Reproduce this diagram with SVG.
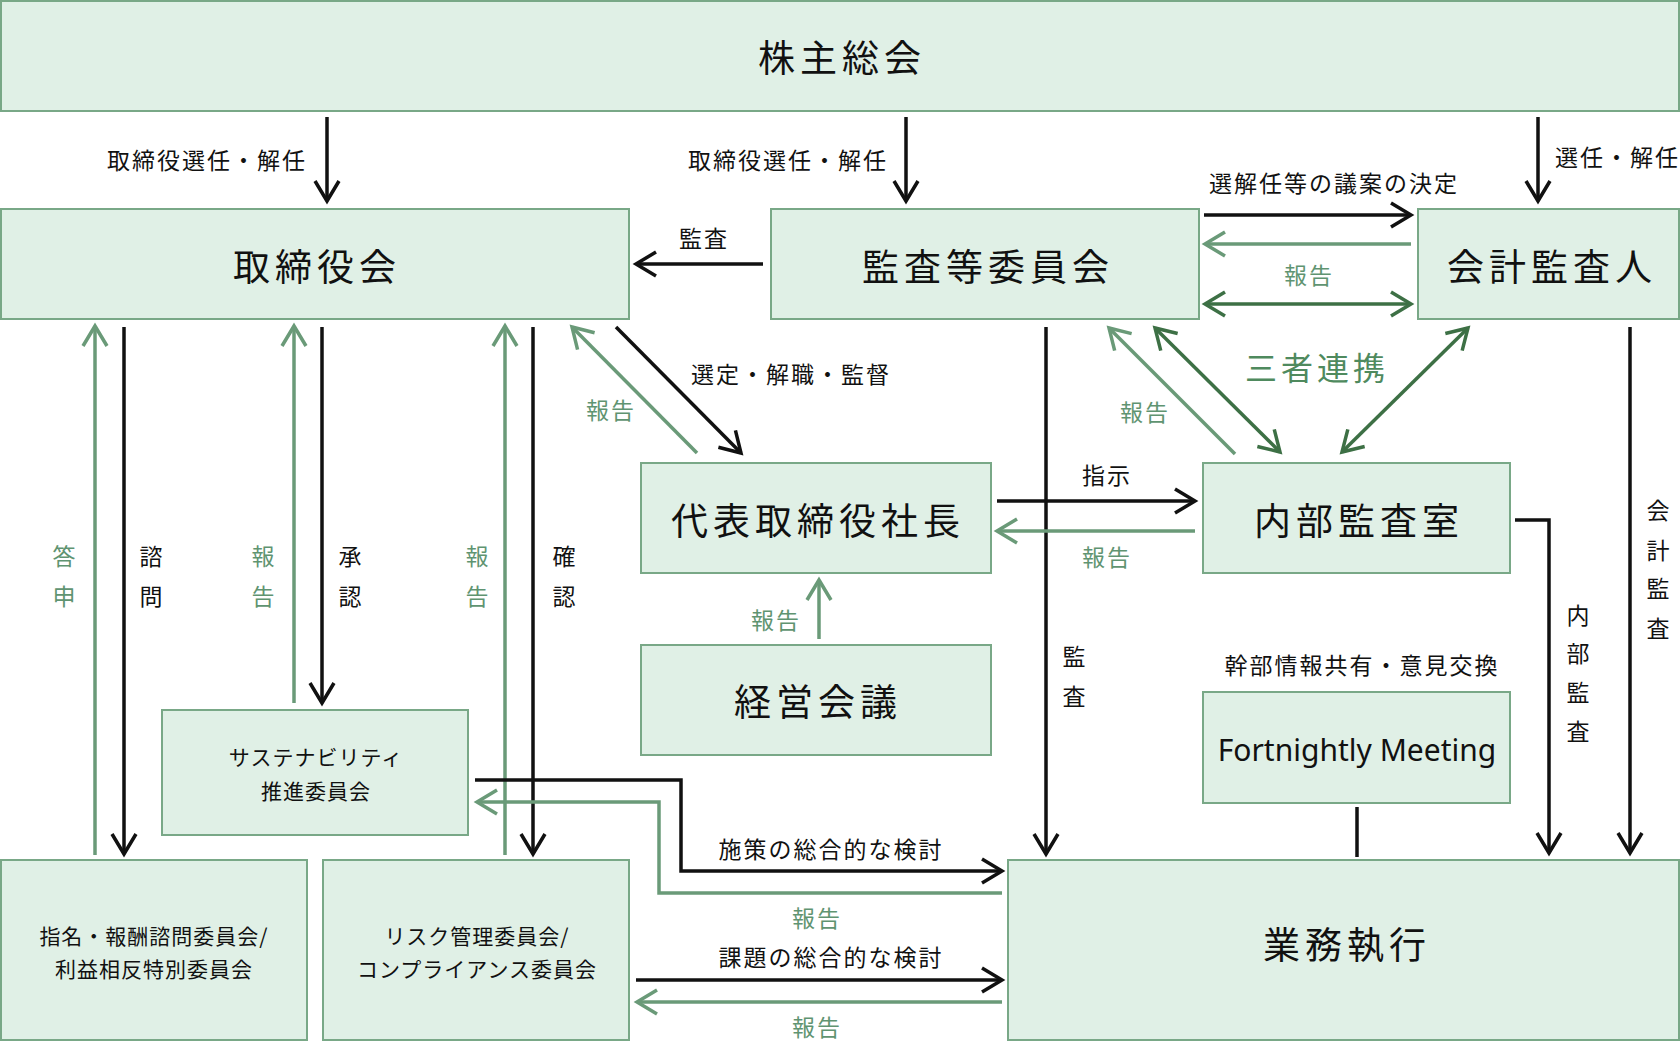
<svg xmlns="http://www.w3.org/2000/svg" width="1680" height="1045" viewBox="0 0 1680 1045">
<style>
.box{fill:#e0f0e6;stroke:#79a887;stroke-width:2}
.big{font-family:"Noto Sans CJK JP","Noto Sans",sans-serif;font-size:37px;letter-spacing:5px;fill:#111;text-anchor:middle;dominant-baseline:central}
.mid{font-family:"Noto Sans CJK JP","Noto Sans",sans-serif;font-size:21px;letter-spacing:1px;fill:#111;text-anchor:middle;dominant-baseline:central}
.lbl{font-family:"Noto Sans CJK JP","Noto Sans",sans-serif;font-size:23px;letter-spacing:2px;fill:#111;text-anchor:middle;dominant-baseline:central}
.g{fill:#5f9471}
.cb{fill:none;stroke:#111;stroke-width:3.5}
.cg{fill:none;stroke:#6a9a78;stroke-width:3.5}
.cd{fill:none;stroke:#3d7045;stroke-width:3.5}
</style>
<defs>
<marker id="mb" markerUnits="userSpaceOnUse" viewBox="-24 -14 28 28" refX="0" refY="0" markerWidth="28" markerHeight="28" orient="auto"><path d="M-20,-12 L0,0 L-20,12" fill="none" stroke="#111" stroke-width="3.5"/></marker>
<marker id="mg" markerUnits="userSpaceOnUse" viewBox="-24 -14 28 28" refX="0" refY="0" markerWidth="28" markerHeight="28" orient="auto"><path d="M-20,-12 L0,0 L-20,12" fill="none" stroke="#6a9a78" stroke-width="3.5"/></marker>
<marker id="md" markerUnits="userSpaceOnUse" viewBox="-24 -14 28 28" refX="0" refY="0" markerWidth="28" markerHeight="28" orient="auto-start-reverse"><path d="M-20,-12 L0,0 L-20,12" fill="none" stroke="#3d7045" stroke-width="3.5"/></marker>
</defs>
<rect width="1680" height="1045" fill="#fff"/>

<g id="n-shareholders"><rect class="box" x="1" y="1" width="1678" height="110"/><text class="big" x="842" y="56">株主総会</text></g>
<g id="n-board"><rect class="box" x="1" y="209" width="628" height="110"/><text class="big" x="317" y="265">取締役会</text></g>
<g id="n-audit-committee"><rect class="box" x="771" y="209" width="428" height="110"/><text class="big" x="988" y="265">監査等委員会</text></g>
<g id="n-accounting-auditor"><rect class="box" x="1418" y="209" width="261" height="110"/><text class="big" x="1552" y="265">会計監査人</text></g>
<g id="n-president"><rect class="box" x="641" y="463" width="350" height="110"/><text class="big" x="818" y="519">代表取締役社長</text></g>
<g id="n-internal-audit"><rect class="box" x="1203" y="463" width="307" height="110"/><text class="big" x="1359" y="519">内部監査室</text></g>
<g id="n-management"><rect class="box" x="641" y="645" width="350" height="110"/><text class="big" x="818" y="700">経営会議</text></g>
<g id="n-fortnightly"><rect class="box" x="1203" y="692" width="307" height="111"/><text x="1357" y="749" font-family="Noto Sans, sans-serif" font-size="30" fill="#111" text-anchor="middle" dominant-baseline="central">Fortnightly Meeting</text></g>
<g id="n-sustainability"><rect class="box" x="162" y="710" width="306" height="125"/><text class="mid" x="316" y="756">サステナビリティ</text><text class="mid" x="316" y="790">推進委員会</text></g>
<g id="n-nomination"><rect class="box" x="1" y="860" width="306" height="180"/><text class="mid" x="154" y="935">指名・報酬諮問委員会/</text><text class="mid" x="154" y="968">利益相反特別委員会</text></g>
<g id="n-risk"><rect class="box" x="323" y="860" width="306" height="180"/><text class="mid" x="477" y="935">リスク管理委員会/</text><text class="mid" x="477" y="968">コンプライアンス委員会</text></g>
<g id="n-operations"><rect class="box" x="1008" y="860" width="671" height="180"/><text class="big" x="1347" y="943">業務執行</text></g>

<g id="connectors">
<path class="cb" d="M327,117 V201" marker-end="url(#mb)"/>
<path class="cb" d="M906,117 V201" marker-end="url(#mb)"/>
<path class="cb" d="M1538,117 V201" marker-end="url(#mb)"/>
<path class="cb" d="M763,264 H636" marker-end="url(#mb)"/>
<path class="cb" d="M1204,215 H1411" marker-end="url(#mb)"/>
<path class="cg" d="M1411,244 H1205" marker-end="url(#mg)"/>
<path class="cd" d="M1205,304 H1411" marker-start="url(#md)" marker-end="url(#md)"/>
<path class="cb" d="M616,327 L741,453" marker-end="url(#mb)"/>
<path class="cg" d="M697,453 L572,327" marker-end="url(#mg)"/>
<path class="cg" d="M95,855 V326" marker-end="url(#mg)"/>
<path class="cb" d="M124,327 V854" marker-end="url(#mb)"/>
<path class="cg" d="M294,703 V326" marker-end="url(#mg)"/>
<path class="cb" d="M322,327 V703" marker-end="url(#mb)"/>
<path class="cg" d="M505,855 V326" marker-end="url(#mg)"/>
<path class="cb" d="M533,327 V854" marker-end="url(#mb)"/>
<path class="cb" d="M1046,327 V854" marker-end="url(#mb)"/>
<path class="cg" d="M1235,454 L1109,328" marker-end="url(#mg)"/>
<path class="cd" d="M1155,328 L1280,452" marker-start="url(#md)" marker-end="url(#md)"/>
<path class="cd" d="M1468,328 L1342,452" marker-start="url(#md)" marker-end="url(#md)"/>
<path class="cb" d="M997,501 H1195" marker-end="url(#mb)"/>
<path class="cg" d="M1195,531 H997" marker-end="url(#mg)"/>
<path class="cg" d="M819,639 V580" marker-end="url(#mg)"/>
<path class="cb" d="M1515,520 H1549 V853" marker-end="url(#mb)"/>
<path class="cb" d="M1630,327 V853" marker-end="url(#mb)"/>
<path class="cb" d="M1357,807 V857"/>
<path class="cb" d="M475,780 H681 V871 H1002" marker-end="url(#mb)"/>
<path class="cg" d="M1002,893 H659 V802 H477" marker-end="url(#mg)"/>
<path class="cb" d="M636,980 H1002" marker-end="url(#mb)"/>
<path class="cg" d="M1002,1002 H637" marker-end="url(#mg)"/>

<text class="lbl" x="307" y="159" style="text-anchor:end">取締役選任・解任</text>
<text class="lbl" x="888" y="159" style="text-anchor:end">取締役選任・解任</text>
<text class="lbl" x="1555" y="156" style="text-anchor:start">選任・解任</text>
<text class="lbl" x="704" y="237">監査</text>
<text class="lbl" x="1334" y="182">選解任等の議案の決定</text>
<text class="lbl g" x="1309" y="274">報告</text>
<text class="lbl" x="691" y="373" style="text-anchor:start">選定・解職・監督</text>
<text class="lbl g" x="611" y="409">報告</text>
<text class="lbl g" x="1145" y="411">報告</text>
<text class="lbl" x="1317" y="366" style="font-size:32px;letter-spacing:4px;fill:#4f8a5e">三者連携</text>
<text class="lbl" x="1107" y="474">指示</text>
<text class="lbl g" x="1107" y="556">報告</text>
<text class="lbl g" x="776" y="619">報告</text>
<text class="lbl" x="1075" y="655">監</text>
<text class="lbl" x="1075" y="695">査</text>
<text class="lbl" x="1362" y="664">幹部情報共有・意見交換</text>
<text class="lbl" x="1579" y="614">内</text>
<text class="lbl" x="1579" y="652">部</text>
<text class="lbl" x="1579" y="691">監</text>
<text class="lbl" x="1579" y="730">査</text>
<text class="lbl" x="1659" y="509">会</text>
<text class="lbl" x="1659" y="549">計</text>
<text class="lbl" x="1659" y="587">監</text>
<text class="lbl" x="1659" y="627">査</text>
<text class="lbl g" x="65" y="555">答</text>
<text class="lbl g" x="65" y="595">申</text>
<text class="lbl" x="152" y="555">諮</text>
<text class="lbl" x="152" y="595">問</text>
<text class="lbl g" x="264" y="555">報</text>
<text class="lbl g" x="264" y="595">告</text>
<text class="lbl" x="351" y="555">承</text>
<text class="lbl" x="351" y="595">認</text>
<text class="lbl g" x="478" y="555">報</text>
<text class="lbl g" x="478" y="595">告</text>
<text class="lbl" x="565" y="555">確</text>
<text class="lbl" x="565" y="595">認</text>
<text class="lbl" x="831" y="848">施策の総合的な検討</text>
<text class="lbl g" x="817" y="917">報告</text>
<text class="lbl" x="831" y="956">課題の総合的な検討</text>
<text class="lbl g" x="817" y="1026">報告</text>
</g>
</svg>
